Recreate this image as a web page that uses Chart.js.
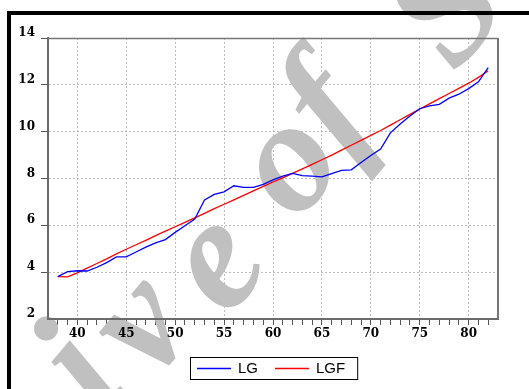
<!DOCTYPE html>
<html>
<head>
<meta charset="utf-8">
<script src="https://cdn.jsdelivr.net/npm/chart.js@4.4.1/dist/chart.umd.min.js"></script>
<style>
    html, body { margin: 0; padding: 0; background: #fff; }
</style>
</head>
<body>
<canvas id="myChart" width="529" height="389"></canvas>
<script>
// years 1938-1982 (shown as 38..82)
var years = [38, 39, 40, 41, 42, 43, 44, 45, 46, 47, 48, 49, 50, 51, 52, 53, 54, 55, 56, 57, 58, 59, 60,
             61, 62, 63, 64, 65, 66, 67, 68, 69, 70, 71, 72, 73, 74, 75, 76, 77, 78, 79, 80, 81, 82];
var lg = [3.81, 4.02, 4.06, 4.05, 4.21, 4.41, 4.65, 4.65, 4.86, 5.07, 5.25, 5.39, 5.70, 5.98, 6.27, 7.08,
          7.32, 7.43, 7.69, 7.62, 7.62, 7.75, 7.94, 8.10, 8.22, 8.12, 8.10, 8.07, 8.21, 8.35, 8.37, 8.68,
          8.98, 9.26, 9.95, 10.33, 10.67, 10.98, 11.10, 11.17, 11.43, 11.60, 11.84, 12.13, 12.73];
var lgf = [3.81, 3.80, 3.97, 4.17, 4.37, 4.57, 4.78, 4.98, 5.17, 5.36, 5.56, 5.75, 5.94, 6.13, 6.32, 6.51,
           6.71, 6.90, 7.09, 7.28, 7.47, 7.66, 7.85, 8.03, 8.22, 8.41, 8.60, 8.80, 9.00, 9.21, 9.42, 9.63,
           9.84, 10.05, 10.28, 10.51, 10.74, 10.97, 11.19, 11.41, 11.63, 11.85, 12.07, 12.32, 12.60];
var xTickLabels = [40, 45, 50, 55, 60, 65, 70, 75, 80];
var yTickLabels = [2, 4, 6, 8, 10, 12, 14];

var tickFont = { family: "'DejaVu Serif', serif", size: 12, weight: 'bold' };
var gridGray = '#bdbdbd';
var axisGray = '#6a6a6a';

function pts(vals) {
    return years.map(function(yr, i) { return { x: yr, y: vals[i] }; });
}

// page watermark ("Archive of SID"), only part of it falls inside the picture
var wmLetters = [['i', 74, 362], ['v', 150, 330], ['e', 222, 268], ['o', 294, 170], ['f', 337, 108], ['S', 442, 8]];

var extras = {
    id: 'extras',
    beforeDatasetsDraw: function(chart) {
        var ctx = chart.ctx;
        ctx.save();
        ctx.fillStyle = '#c0c0c0';
        ctx.font = 'italic bold 160px "Liberation Serif"';
        ctx.textAlign = 'left';
        ctx.textBaseline = 'alphabetic';
        wmLetters.forEach(function(l) {
            var m = ctx.measureText(l[0]);
            var cx = (m.actualBoundingBoxRight - m.actualBoundingBoxLeft) / 2;
            var cy = (m.actualBoundingBoxDescent - m.actualBoundingBoxAscent) / 2;
            ctx.save();
            ctx.translate(l[1], l[2]);
            ctx.rotate(-50 * Math.PI / 180);
            ctx.fillText(l[0], -cx, -cy);
            ctx.restore();
        });
        ctx.restore();
    },
    afterDraw: function(chart) {
        var ctx = chart.ctx, a = chart.chartArea;
        ctx.save();
        // plot frame top / right
        ctx.strokeStyle = '#777';
        ctx.lineWidth = 1.5;
        ctx.beginPath();
        ctx.moveTo(a.left, a.top + 0.5);
        ctx.lineTo(a.right, a.top + 0.5);
        ctx.stroke();
        ctx.lineWidth = 2;
        ctx.beginPath();
        ctx.moveTo(a.right, a.top);
        ctx.lineTo(a.right, a.bottom);
        ctx.stroke();

        // black page frame
        ctx.fillStyle = '#000';
        ctx.fillRect(7, 11, 522, 4);
        ctx.fillRect(7, 11, 4, 378);

        // legend
        ctx.font = '15px "Liberation Sans", Arial, sans-serif';
        ctx.textBaseline = 'middle';
        var sets = chart.data.datasets;
        var boxL = 190, boxT = 357, boxH = 22, x = boxL + 7;
        var cy = boxT + boxH / 2;
        var widths = sets.map(function(d) { return ctx.measureText(d.label).width; });
        var total = 7;
        sets.forEach(function(d, i) { total += 34 + 7 + widths[i] + (i < sets.length - 1 ? 17 : 12); });
        ctx.lineWidth = 1;
        ctx.strokeStyle = '#000';
        ctx.strokeRect(boxL + 0.5, boxT + 0.5, total, boxH);
        sets.forEach(function(d, i) {
            ctx.strokeStyle = d.borderColor;
            ctx.lineWidth = 1.3;
            ctx.beginPath();
            ctx.moveTo(x, cy + 0.5);
            ctx.lineTo(x + 34, cy + 0.5);
            ctx.stroke();
            ctx.fillStyle = '#000';
            ctx.fillText(d.label, x + 41, cy + 1);
            x += 34 + 7 + widths[i] + 17;
        });
        ctx.restore();
    }
};

var ctx = document.getElementById('myChart').getContext('2d');
var myChart = new Chart(ctx, {
    type: 'line',
    data: {
        datasets: [{
            label: 'LG',
            data: pts(lg),
            borderColor: '#0000ff',
            borderWidth: 1.3,
            pointRadius: 0,
            tension: 0
        }, {
            label: 'LGF',
            data: pts(lgf),
            borderColor: '#ff0000',
            borderWidth: 1.3,
            pointRadius: 0,
            tension: 0
        }]
    },
    options: {
        responsive: false,
        animation: false,
        layout: { padding: { left: 0, top: 38, right: 31, bottom: 40 } },
        plugins: {
            legend: { display: false },
            tooltip: { enabled: false }
        },
        scales: {
            x: {
                type: 'linear',
                min: 37,
                max: 83,
                afterFit: function(s) { s.height = 30; },
                afterBuildTicks: function(s) {
                    var t = [];
                    for (var v = 37; v <= 83; v++) t.push({ value: v });
                    s.ticks = t;
                },
                ticks: {
                    autoSkip: false,
                    maxRotation: 0,
                    padding: 2,
                    color: '#000',
                    font: tickFont,
                    z: 1,
                    callback: function(v) { return xTickLabels.indexOf(v) >= 0 ? String(v) : ''; }
                },
                grid: {
                    color: function(c) { return xTickLabels.indexOf(c.tick.value) >= 0 ? gridGray : 'transparent'; },
                    tickColor: function(c) { return (c.tick.value > 37 && c.tick.value < 83) ? '#555' : 'transparent'; },
                    tickLength: 6,
                    tickWidth: 1
                },
                border: { color: axisGray, width: 2, dash: [2, 2], z: 1 }
            },
            y: {
                min: 2,
                max: 14,
                afterFit: function(s) { s.width = 48; },
                afterBuildTicks: function(s) {
                    s.ticks = yTickLabels.map(function(v) { return { value: v }; });
                },
                ticks: {
                    padding: 6,
                    labelOffset: -5,
                    color: '#000',
                    font: tickFont,
                    z: 1
                },
                grid: {
                    color: function(c) { return (c.tick.value > 2 && c.tick.value < 14) ? gridGray : 'transparent'; },
                    tickColor: '#555',
                    tickLength: 7,
                    tickWidth: 1
                },
                border: { color: axisGray, width: 2, dash: [2, 2], z: 1 }
            }
        }
    },
    plugins: [extras]
});
</script>
</body>
</html>
